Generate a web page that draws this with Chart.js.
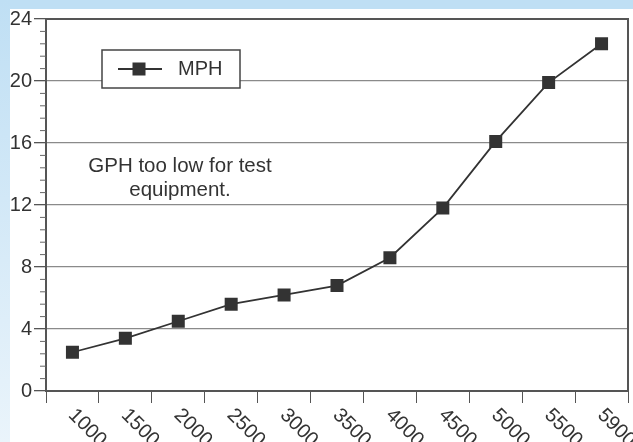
<!DOCTYPE html>
<html>
<head>
<meta charset="utf-8">
<script src="https://cdn.jsdelivr.net/npm/chart.js@4/dist/chart.umd.min.js"></script>
<style>
  html, body { margin: 0; padding: 0; background: #ffffff; }
  #wrap { position: relative; width: 633px; height: 442px; background: #ffffff; overflow: hidden; }
  #topStrip { position: absolute; left: 0; top: 0; width: 633px; height: 9px; background: #bfdff4; }
  #leftStrip { position: absolute; left: 0; top: 0; width: 10px; height: 442px;
               background: linear-gradient(to bottom, #bfdff4 0%, #d2e8f7 45%, #eaf4fb 100%); }
  canvas { position: absolute; left: 0; top: 0; }
</style>
</head>
<body>
<div id="wrap">
  <div id="topStrip"></div>
  <div id="leftStrip"></div>
  <canvas id="c" width="638" height="442"></canvas>
</div>
<script>
// ---- data ----
const categories = ['1000', '1500', '2000', '2500', '3000', '3500', '4000', '4500', '5000', '5500', '5900'];
const mphValues = [2.5, 3.4, 4.5, 5.6, 6.2, 6.8, 8.6, 11.8, 16.1, 19.9, 22.4];
const seriesLabel = 'MPH';
const yTickValues = [0, 4, 8, 12, 16, 20, 24];
const noteLines = ['GPH too low for test', 'equipment.'];

const FONT = '"Liberation Sans", Arial, Helvetica, sans-serif';
const TEXT = '#333333';
const AXIS = '#555555';
const MARK = '#333333';

const framePlugin = {
  id: 'frame',
  beforeDatasetsDraw(chart) {
    const { ctx, chartArea: a } = chart;
    ctx.save();
    ctx.strokeStyle = AXIS;
    ctx.lineWidth = 2;
    ctx.beginPath();
    ctx.moveTo(a.left, a.top);
    ctx.lineTo(a.right, a.top);
    ctx.lineTo(a.right, a.bottom);
    ctx.stroke();
    // minor ticks on y axis
    const y = chart.scales.y;
    ctx.lineWidth = 1;
    ctx.strokeStyle = '#666';
    for (let v = 0; v <= 24.001; v += 0.8) {
      const r = Math.round(v * 10) / 10;
      if (Math.abs(r % 4) < 0.01) continue;
      const py = y.getPixelForValue(r);
      ctx.beginPath();
      ctx.moveTo(a.left - 6, py);
      ctx.lineTo(a.left, py);
      ctx.stroke();
    }
    ctx.restore();
  },
  afterDraw(chart) {
    const { ctx, chartArea: a } = chart;
    const x = chart.scales.x;
    ctx.save();
    // rotated x labels (clockwise, reading down-right)
    ctx.fillStyle = TEXT;
    ctx.font = '20px ' + FONT;
    ctx.textAlign = 'left';
    ctx.textBaseline = 'middle';
    categories.forEach((lab, i) => {
      const px = x.getPixelForTick(i);
      ctx.save();
      ctx.translate(px - 1, a.bottom + 21);
      ctx.rotate(Math.PI / 4);
      ctx.fillText(lab, 0, 0);
      ctx.restore();
    });
    // legend box
    const lx = a.left + 56, ly = a.top + 31, lw = 138, lh = 38;
    ctx.fillStyle = '#ffffff';
    ctx.fillRect(lx, ly, lw, lh);
    ctx.strokeStyle = '#444';
    ctx.lineWidth = 1.5;
    ctx.strokeRect(lx, ly, lw, lh);
    const my = ly + lh / 2;
    ctx.strokeStyle = MARK;
    ctx.lineWidth = 1.8;
    ctx.beginPath();
    ctx.moveTo(lx + 16, my);
    ctx.lineTo(lx + 60, my);
    ctx.stroke();
    ctx.fillStyle = MARK;
    ctx.fillRect(lx + 37 - 6.5, my - 6.5, 13, 13);
    ctx.fillStyle = TEXT;
    ctx.textBaseline = 'alphabetic';
    ctx.textAlign = 'left';
    ctx.fillText(chart.data.datasets[0].label, lx + 76, my + 6);
    // note
    ctx.textAlign = 'center';
    ctx.font = '20.5px ' + FONT;
    ctx.fillText(noteLines[0], a.left + 134, a.top + 153);
    ctx.fillText(noteLines[1], a.left + 134, a.top + 177);
    ctx.restore();
  }
};

new Chart(document.getElementById('c'), {
  type: 'line',
  data: {
    labels: categories,
    datasets: [{
      label: seriesLabel,
      data: mphValues,
      borderColor: MARK,
      borderWidth: 1.8,
      pointStyle: 'rect',
      pointRadius: 9.2,
      pointHoverRadius: 9.2,
      pointBackgroundColor: MARK,
      pointBorderWidth: 0,
      tension: 0,
      fill: false
    }]
  },
  options: {
    responsive: false,
    devicePixelRatio: 1,
    animation: false,
    events: [],
    layout: { padding: { left: 10, top: 19, right: 10, bottom: 0 } },
    plugins: { legend: { display: false }, tooltip: { enabled: false } },
    scales: {
      x: {
        type: 'category',
        offset: true,
        grid: { offset: true, drawOnChartArea: false, tickLength: 12, color: AXIS, lineWidth: 1 },
        border: { color: AXIS, width: 2 },
        ticks: { display: false },
        afterFit(s) { s.height = 51; }
      },
      y: {
        min: 0,
        max: 24,
        afterBuildTicks(s) { s.ticks = yTickValues.map(v => ({ value: v })); },
        ticks: {
          color: TEXT,
          font: { size: 20, family: FONT },
          padding: 2
        },
        grid: { color: '#8a8a8a', lineWidth: 1.3, tickLength: 12, tickColor: AXIS },
        border: { color: AXIS, width: 2 },
        afterFit(s) { s.width = 36; }
      }
    }
  },
  plugins: [framePlugin]
});
</script>
</body>
</html>
